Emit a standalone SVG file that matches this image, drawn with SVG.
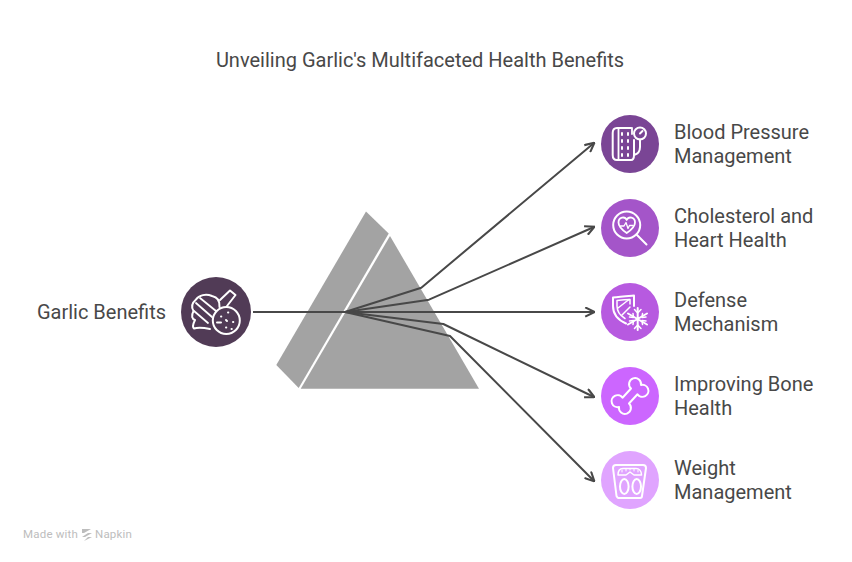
<svg xmlns="http://www.w3.org/2000/svg" width="852" height="562" viewBox="0 0 852 562">
<style>
text{font-family:Roboto,"Liberation Sans",sans-serif;fill:#484848;font-size:20px}
.ic{fill:none;stroke:#fff;stroke-width:2;stroke-linecap:round;stroke-linejoin:round}
.ln{fill:none;stroke:#484848;stroke-width:2;stroke-linejoin:round}
</style>
<defs><marker id="a" viewBox="0 0 10 10" refX="9" refY="5" markerWidth="11" markerHeight="11" markerUnits="userSpaceOnUse" orient="auto"><path d="M1 0.8L9.5 5L1 9.2" fill="none" stroke="#484848" stroke-width="1.9"/></marker></defs>
<rect width="852" height="562" fill="#fff"/>
<text x="420" y="67" text-anchor="middle">Unveiling Garlic's Multifaceted Health Benefits</text>
<g id="prism">
<polygon points="366,211.500 388.700,233.500 298.700,388 276.300,365" fill="#a3a3a3"/>
<polygon points="390,236 479,388.700 300.700,388.700" fill="#a3a3a3"/>
</g>
<g id="connectors">
<path class="ln" d="M253 312H594" marker-end="url(#a)"/>
<path class="ln" d="M345 312L421.300 287.700L594 143" marker-end="url(#a)"/>
<path class="ln" d="M345 312L429 299.700L594 227" marker-end="url(#a)"/>
<path class="ln" d="M345 312L443.300 324L594 397" marker-end="url(#a)"/>
<path class="ln" d="M345 312L450 336L594 481" marker-end="url(#a)"/>
</g>
<g id="garlic">
<circle cx="216" cy="312" r="35" fill="#513b56"/>
<g class="ic">
<path d="M220 300L230 290.500L235.500 295L227 306"/>
<path d="M219.500 307C220 301 217 297 212 296C206 293.500 199 295 196 299.500C192 303 191 307 193.500 311C191 316 192 319 195 320C193 324 192 327 194 328.500C199 327 205 328 210 329"/>
<path d="M200 298L216 311M196 303L212 317M194 311L208 323" stroke-width="1.800"/>
<circle cx="226.300" cy="320.500" r="13.500"/>
<path d="M221 316.500L221.300 316.500M228 312.500L228.300 312.500M233 322L233.300 322M226 327.500L226.300 327.500M231.500 329L231.800 329M217 322.500H221M226 320L227 321"/>
</g>
<text x="166" y="319" text-anchor="end">Garlic Benefits</text>
</g>
<g id="blood-pressure">
<circle cx="630" cy="144" r="29" fill="#7a4595"/>
<g class="ic">
<path d="M631 128H617C614.500 128 612.700 130 612.700 133V155C612.700 158 614.500 160 617 160H631C633 160 634 158 634 155V140"/>
<path d="M618.500 128V160M632 128V134" stroke-width="1.800"/>
<path d="M622 133V135M628 133V135M622 140V142M628 140V142M622 147V149M628 147V149M622 154V156M628 154V156"/>
<circle cx="640" cy="133.500" r="6"/>
<path d="M640 133.500L642.500 131M640 139.500V147C640 151 638 154 634 155"/>
</g>
<text x="674" y="139">Blood Pressure</text>
<text x="674" y="163">Management</text>
</g>
<g id="cholesterol">
<circle cx="630" cy="228" r="29" fill="#a455c9"/>
<g class="ic">
<circle cx="626.700" cy="225" r="13.500"/>
<path d="M636.500 234.500L646.500 244.500"/>
<path d="M626.700 233C620 228.500 618.500 225 618.500 222.500C618.500 217 625 216 626.700 220C628.500 216 635 217 635 222.500C635 225 633.500 228.500 626.700 233Z" stroke-width="1.800"/>
<path d="M620.500 226H624L626 222.500L628 228.500L629.500 225.500H633" stroke-width="1.300"/>
</g>
<text x="674" y="223">Cholesterol and</text>
<text x="674" y="247">Heart Health</text>
</g>
<g id="defense">
<circle cx="630" cy="312" r="29" fill="#b75ae0"/>
<g class="ic">
<path d="M626 323.500C618 320 613 314 613 306V297.500C619 296.500 627 296 634 295.500V306"/>
<path d="M625 318.500C620 315.500 617 311 617 306V300.500C621 300 626 299.500 630 299.500V304" stroke-width="1.500"/>
<path d="M618 308L629 299.500M622 315L630 307" stroke-width="1.500"/>
<path d="M637.700 308V330M628 313.500L647 324.500M628 324.500L647 313.500"/>
<path d="M634.500 309.500L637.700 313L641 309.500M634.500 328.500L637.700 325L641 328.500M629.500 317L633.500 317.500L633 313.500M646 317L642 317.500L642.500 313.500M629.500 321L633.500 320.500L633 324.500M646 321L642 320.500L642.500 324.500" stroke-width="1.500"/>
</g>
<text x="674" y="307">Defense</text>
<text x="674" y="331">Mechanism</text>
</g>
<g id="bone">
<circle cx="630" cy="396" r="29" fill="#cc66ff"/>
<path class="ic" d="M631 388.500A6 6 0 1 1 641 385A6 6 0 1 1 637.500 394.300L629 403.500A6 6 0 1 1 619 407A6 6 0 1 1 622.500 397.700Z"/>
<text x="674" y="391">Improving Bone</text>
<text x="674" y="415">Health</text>
</g>
<g id="weight">
<circle cx="630" cy="480" r="29" fill="#e0a4ff"/>
<g class="ic">
<path d="M613 468C613 466 614.500 465 616 465H643C645 465 646 466 646 468L642 496C642 497 641 498 640 498H618.500C617.500 498 617 497 616.500 496Z"/>
<path d="M618 475C618 471 620 468.500 623 468.500H636C639 468.500 641.500 471 641.500 475H634L630 472L626 475Z" stroke-width="1.500"/>
<path d="M622 470V472M626 469V471M630 468.500V470M634 469V471M638 470V472" stroke-width="1"/>
<ellipse cx="624.300" cy="486.500" rx="4.300" ry="7.500"/>
<ellipse cx="636.700" cy="486.500" rx="4.300" ry="7.500"/>
</g>
<text x="674" y="475">Weight</text>
<text x="674" y="499">Management</text>
</g>
<g id="watermark">
<text x="23" y="538" style="font-size:11.500px;fill:#bdbdbd;letter-spacing:.2px">Made with</text>
<path d="M82 529H91L84 533H92L85 537H92L84 541L88 537H82L88 533H82Z" fill="#bdbdbd"/>
<text x="95" y="538" style="font-size:11.500px;fill:#bdbdbd;letter-spacing:.2px">Napkin</text>
</g>
</svg>
